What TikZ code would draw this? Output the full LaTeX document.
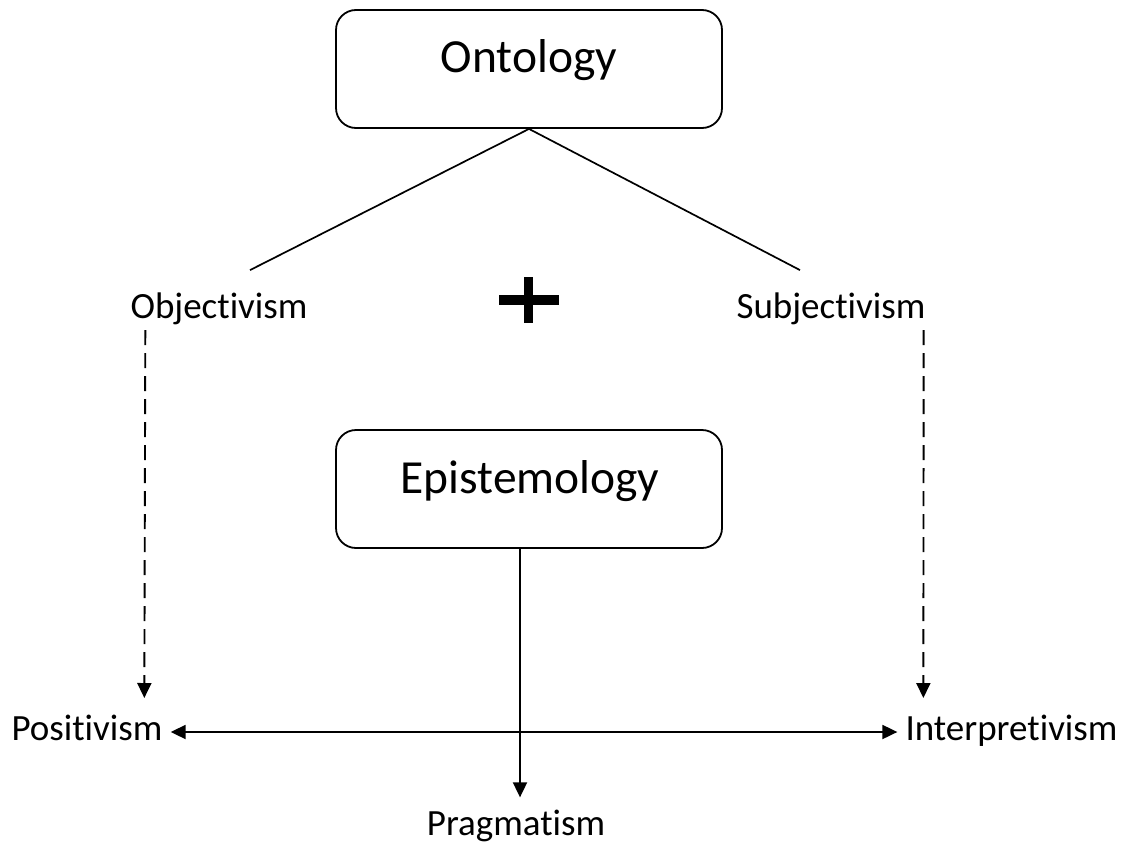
\documentclass[tikz,border=0pt]{standalone}
\usepackage{fontspec}
\setmainfont{Carlito}[Ligatures={NoCommon,NoContextual}]
\usetikzlibrary{arrows.meta,calc}
\begin{document}
\begin{tikzpicture}[x=1pt,y=-1pt,
  box/.style={draw,line width=1.8pt,rounded corners=20pt,minimum width=386pt,minimum height=118pt,inner sep=0pt},
  boxtext/.style={anchor=base,inner sep=0pt,font=\fontsize{47.5}{50}\selectfont},
  term/.style={anchor=base,inner sep=0pt,font=\fontsize{37}{40}\selectfont},
  link/.style={line width=1.7pt},
  arr/.style={line width=1.9pt,-{Triangle[length=15pt,width=14pt]}},
  dasharr/.style={arr,dash pattern=on 15pt off 8pt}]
\useasboundingbox (0,0) rectangle (1126,843);

% the two framed concepts
\node[box] (onto) at (529,69) {};
\node[boxtext] (ontotext) at (529,73) {Ontology};
\node[box] (epi) at (529,489) {};
\node[boxtext] (epitext) at (530,493) {Epistemology};

% ontological positions
\node[term] (obj) at (219,318) {Objectivism};
\node[term] (subj) at (831,318) {Subjectivism};

% epistemological positions
\node[term] (pos) at (87,740) {Positivism};
\node[term] (interp) at (1011.5,740) {Interpretivism};
\node[term] (prag) at (516,835) {Pragmatism};

% branches from Ontology
\draw[link] (onto.south) -- ($(obj.north)+(31,-22)$);
\draw[link] (onto.south) -- ($(subj.north)+(-31,-22)$);

% the plus sign between the branches
\draw[line width=10pt] (499,300) -- (559,300);
\draw[line width=9pt] (528.5,277) -- (528.5,323);

% dashed links down to the research philosophies
\draw[dasharr] ($(obj.base west)+(15,12)$) -- ($(pos.base west)+(133,-42)$);
\draw[dasharr] ($(subj.base east)+(-2,12)$) -- ($(interp.base west)+(18,-42)$);

% continuum between the two philosophies
\draw[line width=1.9pt,{Triangle[length=15pt,width=14pt]}-{Triangle[length=15pt,width=14pt]}]
  ($(pos.base east)+(8,-8)$) -- ($(interp.base west)+(-8,-8)$);

% Epistemology leads down to Pragmatism
\draw[arr] (epi.south -| 520,0) -- ($(prag.north -| 520,0)+(0,-12)$);
\end{tikzpicture}
\end{document}
